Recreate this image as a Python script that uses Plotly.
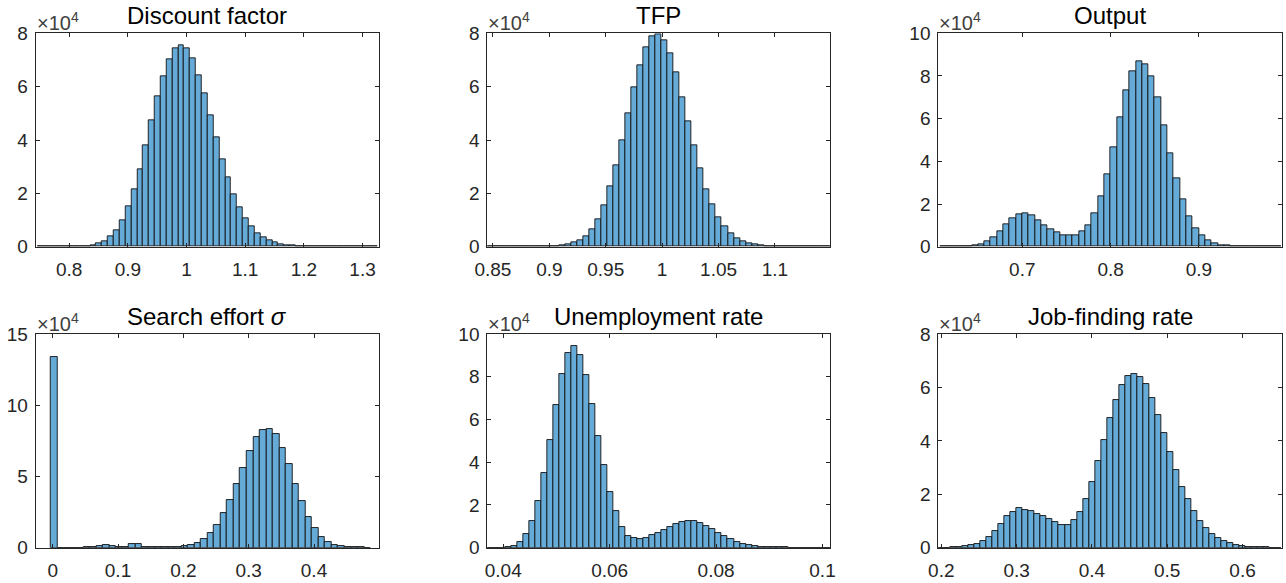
import numpy as np
import plotly.graph_objects as go

# ---------------- data (counts in units of 10^4) ----------------
titles = ["Discount factor", "TFP", "Output", "Search effort <i>σ</i>", "Unemployment rate", "Job-finding rate"]

discount_bin_start = 0.746
discount_bin_width = 0.01
discount_counts = [0, 0, 0, 0.001, 0.002, 0.004, 0.007, 0.015, 0.03, 0.06,
                   0.11, 0.22, 0.39, 0.63, 1.0, 1.52, 2.15, 2.9, 3.8, 4.72,
                   5.64, 6.39, 7.04, 7.45, 7.56, 7.44, 7.06, 6.44, 5.75, 4.91,
                   4.1, 3.29, 2.6, 1.98, 1.46, 1.06, 0.75, 0.51, 0.35, 0.24,
                   0.15, 0.1, 0.06, 0.04, 0.025, 0.015, 0.01, 0.006, 0.004, 0.003,
                   0.002, 0.001, 0.001, 0.0005, 0.0005, 0.0003, 0.0002, 0.0001]

tfp_bin_start = 0.845
tfp_bin_width = 0.00533
tfp_counts = [0, 0, 0, 0, 0, 0, 0, 0.001, 0.003, 0.006,
              0.012, 0.02, 0.05, 0.09, 0.15, 0.25, 0.4, 0.65, 1.04, 1.55,
              2.26, 3.07, 4.0, 5.0, 5.97, 6.79, 7.46, 7.9, 7.97, 7.75,
              7.25, 6.52, 5.6, 4.69, 3.81, 2.95, 2.17, 1.6, 1.1, 0.75,
              0.5, 0.33, 0.2, 0.12, 0.08, 0.05, 0.03, 0.02, 0.012, 0.008,
              0.005, 0.003, 0.002, 0.001, 0.001, 0, 0]

output_bin_start = 0.60714
output_bin_width = 0.007143
output_counts = [0, 0.002, 0.005, 0.01, 0.03, 0.06, 0.12, 0.25, 0.44, 0.73,
                 1.03, 1.33, 1.52, 1.56, 1.47, 1.25, 1.02, 0.81, 0.67, 0.55,
                 0.52, 0.55, 0.73, 1.02, 1.56, 2.36, 3.4, 4.67, 6.06, 7.34,
                 8.2, 8.69, 8.56, 7.98, 6.98, 5.67, 4.39, 3.2, 2.22, 1.42,
                 0.88, 0.52, 0.3, 0.16, 0.08, 0.045, 0.025, 0.015, 0.01, 0.005,
                 0.003, 0.002, 0.001, 0.001]

search_bin_start = -0.003
search_bin_width = 0.01
search_counts = [13.4, 0.005, 0.005, 0.01, 0.01, 0.02, 0.05, 0.12, 0.16, 0.14,
                 0.05, 0.03, 0.26, 0.26, 0.07, 0.05, 0.05, 0.06, 0.07, 0.08,
                 0.1, 0.18, 0.33, 0.63, 1.05, 1.62, 2.43, 3.35, 4.45, 5.62,
                 6.79, 7.79, 8.26, 8.33, 7.98, 7.0, 5.85, 4.45, 3.25, 2.15,
                 1.36, 0.77, 0.42, 0.21, 0.12, 0.05, 0.03, 0.015, 0.01]

unemp_bin_start = 0.037
unemp_bin_width = 0.00113
unemp_counts = [0, 0, 0.005, 0.03, 0.08, 0.25, 0.62, 1.25, 2.2, 3.48,
                5.04, 6.68, 8.14, 9.13, 9.44, 9.02, 8.07, 6.71, 5.24, 3.85,
                2.62, 1.73, 0.98, 0.56, 0.44, 0.39, 0.47, 0.58, 0.69, 0.84,
                0.97, 1.09, 1.19, 1.23, 1.23, 1.15, 1.03, 0.86, 0.7, 0.55,
                0.41, 0.28, 0.19, 0.12, 0.08, 0.05, 0.03, 0.02, 0.015, 0.01,
                0.008, 0.006, 0.004, 0.003, 0.002, 0.001, 0.001]

jobfind_bin_start = 0.196
jobfind_bin_width = 0.008
jobfind_counts = [0, 0.003, 0.01, 0.025, 0.05, 0.09, 0.14, 0.25, 0.41, 0.64,
                  0.88, 1.17, 1.35, 1.47, 1.43, 1.38, 1.28, 1.17, 1.07, 0.95,
                  0.85, 0.85, 1.03, 1.33, 1.83, 2.46, 3.24, 4.03, 4.84, 5.53,
                  6.08, 6.41, 6.52, 6.4, 6.11, 5.62, 4.97, 4.3, 3.59, 2.91,
                  2.29, 1.82, 1.38, 1.0, 0.74, 0.53, 0.36, 0.25, 0.16, 0.1,
                  0.06, 0.04, 0.025, 0.015, 0.01, 0.005, 0.002]

x_tickvals = [[0.8, 0.9, 1.0, 1.1, 1.2, 1.3],
              [0.85, 0.9, 0.95, 1.0, 1.05, 1.1],
              [0.7, 0.8, 0.9],
              [0, 0.1, 0.2, 0.3, 0.4],
              [0.04, 0.06, 0.08, 0.1],
              [0.2, 0.3, 0.4, 0.5, 0.6]]
x_ticktext = [["0.8", "0.9", "1", "1.1", "1.2", "1.3"],
              ["0.85", "0.9", "0.95", "1", "1.05", "1.1"],
              ["0.7", "0.8", "0.9"],
              ["0", "0.1", "0.2", "0.3", "0.4"],
              ["0.04", "0.06", "0.08", "0.1"],
              ["0.2", "0.3", "0.4", "0.5", "0.6"]]
x_ranges = [[0.743, 1.328], [0.845, 1.1488], [0.6049, 0.9937],
            [-0.026, 0.4995], [0.037, 0.10141], [0.196, 0.652]]
y_tickvals = [[0, 2, 4, 6, 8], [0, 2, 4, 6, 8], [0, 2, 4, 6, 8, 10],
              [0, 5, 10, 15], [0, 2, 4, 6, 8, 10], [0, 2, 4, 6, 8]]
y_ranges = [[0, 8], [0, 8], [0, 10], [0, 15], [0, 10], [0, 8]]

bins = [(discount_bin_start, discount_bin_width, discount_counts),
        (tfp_bin_start, tfp_bin_width, tfp_counts),
        (output_bin_start, output_bin_width, output_counts),
        (search_bin_start, search_bin_width, search_counts),
        (unemp_bin_start, unemp_bin_width, unemp_counts),
        (jobfind_bin_start, jobfind_bin_width, jobfind_counts)]

# ---------------- layout geometry ----------------
W, H = 1286, 583
x_domains = [[35.7 / W, 379 / W], [487.3 / W, 830 / W], [938.3 / W, 1281.7 / W]]
y_domains = [[1 - 246.7 / H, 1 - 33.3 / H], [1 - 547.7 / H, 1 - 334 / H]]

FONT = "Liberation Sans, Arial, Helvetica, sans-serif"
AXC = "#262626"

fig = go.Figure()
layout = dict(template="none", width=W, height=H, margin=dict(l=0, r=0, t=0, b=0, pad=0),
              paper_bgcolor="white", plot_bgcolor="white", showlegend=False,
              bargap=0, annotations=[])

for i in range(6):
    r, c = divmod(i, 3)
    s = "" if i == 0 else str(i + 1)
    start, bw, counts = bins[i]
    counts = np.array(counts, dtype=float)
    lefts = start + bw * np.arange(len(counts))
    fig.add_trace(go.Bar(
        x=lefts, y=counts, width=bw, offset=0,
        marker=dict(color="rgb(102,170,216)", line=dict(color="#111111", width=0.9)),
        xaxis="x" + s, yaxis="y" + s, hoverinfo="skip"))
    common = dict(showline=True, linecolor=AXC, linewidth=1, mirror="ticks",
                  ticks="inside", ticklen=4, tickwidth=1, tickcolor=AXC,
                  showgrid=False, zeroline=False, automargin=False,
                  tickfont=dict(family=FONT, size=19, color=AXC))
    layout["xaxis" + s] = dict(common, domain=x_domains[c], range=x_ranges[i],
                               anchor="y" + s, tickmode="array",
                               tickvals=x_tickvals[i], ticktext=x_ticktext[i],
                               ticklabelstandoff=5)
    layout["yaxis" + s] = dict(common, domain=y_domains[r], range=y_ranges[i],
                               anchor="x" + s, tickmode="array",
                               tickvals=y_tickvals[i],
                               ticktext=[str(v) for v in y_tickvals[i]],
                               ticklabelstandoff=3)
    xd, yd = x_domains[c], y_domains[r]
    layout["annotations"].append(dict(
        text=titles[i], x=(xd[0] + xd[1]) / 2, y=yd[1], xref="paper", yref="paper",
        xanchor="center", yanchor="bottom", showarrow=False, yshift=2,
        font=dict(family=FONT, size=24, color="black")))
    layout["annotations"].append(dict(
        text="×10<sup>4</sup>", x=xd[0], y=yd[1], xref="paper", yref="paper",
        xanchor="left", yanchor="bottom", showarrow=False, xshift=-1, yshift=-3,
        font=dict(family=FONT, size=20, color="#404040")))

fig.update_layout(**layout)
fig.write_html("out.html")
